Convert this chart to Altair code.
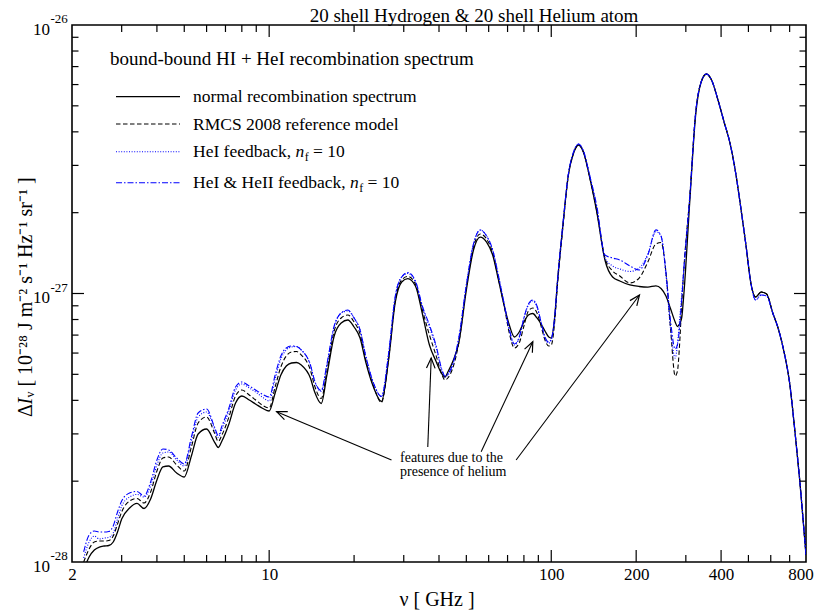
import math
import altair as alt
import pandas as pd

# ---------------- data ----------------
NU = [2.2, 2.3, 2.4, 2.5, 2.6, 2.7, 2.8, 2.9, 3.0, 3.2, 3.4, 3.6, 3.8, 4.0, 4.2, 4.4, 4.7, 5.0,
      5.3, 5.6, 6.0, 6.4, 6.6, 6.8, 7.2, 7.6, 8.0, 8.5, 9.0, 9.5, 10, 10.5, 11, 11.5, 12, 12.5,
      13, 14, 14.5, 15.3, 16, 17, 18, 19, 20, 21, 22, 23.5, 25, 26.5, 28, 29.5, 31, 33, 35, 37,
      39, 41, 42, 43, 45, 47, 50, 53, 56, 59, 62, 65, 68, 71, 74, 77, 80, 83, 86, 89, 92, 95,
      98, 100, 103, 105, 110, 115, 120, 125, 130, 137, 145, 155, 165, 175, 190, 205, 220, 235,
      245, 255, 265, 275, 280, 285, 290, 295, 310, 325, 340, 355, 370, 390, 410, 430, 450, 470,
      490, 510, 530, 555, 580, 610, 640, 670, 700, 730, 760, 790, 800]

# Delta I_nu in units of 1e-28 J m^-2 s^-1 Hz^-1 sr^-1
NORMAL = [0.934, 1.044, 1.108, 1.137, 1.147, 1.152, 1.187, 1.293, 1.446, 1.589, 1.652, 1.582,
          1.717, 2.020, 2.259, 2.278, 2.145, 2.073, 2.482, 2.998, 3.129, 2.798, 2.670, 2.822,
          3.266, 3.910, 4.152, 4.012, 3.861, 3.730, 3.651, 4.260, 4.972, 5.370, 5.510, 5.534,
          5.416, 4.845, 4.297, 3.894, 4.930, 6.946, 7.766, 7.968, 7.503, 6.828, 5.558, 4.446,
          3.961, 5.654, 9.297, 11.04, 11.37, 10.67, 8.317, 6.429, 5.606, 5.014, 4.887, 5.101,
          5.654, 6.541, 10.30, 14.52, 16.23, 15.55, 13.91, 11.23, 9.063, 7.633, 6.887, 7.189,
          7.833, 8.317, 8.425, 8.107, 7.699, 7.250, 6.887, 6.828, 8.317, 10.76, 17.99, 27.63,
          33.37, 35.74, 33.65, 26.93, 20.12, 13.33, 11.52, 11.13, 10.76, 10.62, 10.57, 10.67,
          10.44, 9.788, 8.756, 7.833, 7.536, 7.699, 8.107, 9.872, 22.29, 46.23, 61.34, 65.70,
          62.41, 52.57, 43.52, 36.36, 28.35, 20.82, 15.16, 10.94, 9.705, 10.13, 9.957, 8.462,
          7.313, 6.003, 4.642, 3.101, 2.020, 1.250, 1.062]

RMCS = [1.000, 1.118, 1.187, 1.197, 1.197, 1.202, 1.250, 1.385, 1.536, 1.687, 1.724, 1.658,
        1.823, 2.182, 2.440, 2.461, 2.297, 2.182, 2.681, 3.294, 3.468, 3.022, 2.811, 2.971,
        3.468, 4.152, 4.371, 4.188, 3.996, 3.827, 3.746, 4.485, 5.325, 5.851, 6.055, 6.081,
        5.901, 5.189, 4.524, 4.065, 5.102, 7.250, 8.106, 8.317, 7.832, 7.066, 5.654, 4.484,
        3.927, 5.703, 9.458, 11.23, 11.57, 10.85, 8.607, 7.005, 5.902, 4.971, 4.763, 4.845,
        5.371, 6.541, 10.48, 14.90, 16.65, 15.96, 14.15, 11.33, 9.063, 7.127, 6.267, 6.542,
        7.569, 8.607, 8.832, 8.462, 7.568, 6.712, 6.376, 6.431, 7.968, 10.49, 17.68, 27.63,
        33.37, 35.74, 33.65, 26.93, 20.29, 13.56, 12.13, 11.62, 10.95, 11.42, 13.10, 15.30,
        15.49, 12.02, 7.313, 4.927, 5.123, 6.430, 9.063, 12.23, 23.27, 47.03, 61.34, 65.70,
        62.41, 52.57, 43.52, 36.36, 28.35, 20.82, 15.16, 10.94, 9.705, 10.13, 9.957, 8.462,
        7.313, 6.003, 4.642, 3.101, 2.020, 1.250, 1.062]

HEI_FB = [1.035, 1.187, 1.249, 1.218, 1.228, 1.234, 1.282, 1.445, 1.616, 1.746, 1.785, 1.746,
          1.919, 2.297, 2.547, 2.569, 2.398, 2.278, 2.823, 3.469, 3.620, 3.128, 2.909, 3.128,
          3.651, 4.371, 4.602, 4.447, 4.280, 4.099, 3.978, 4.804, 5.703, 6.160, 6.321, 6.348,
          6.160, 5.416, 4.722, 4.316, 5.372, 7.503, 8.462, 8.607, 8.105, 7.313, 5.851, 4.601,
          4.134, 5.953, 9.788, 11.52, 11.87, 11.04, 8.832, 7.502, 6.321, 5.145, 4.887, 4.971,
          5.510, 6.769, 10.75, 15.29, 17.23, 16.37, 14.52, 11.62, 9.220, 7.312, 6.430, 6.829,
          8.106, 9.062, 9.378, 8.909, 7.832, 6.828, 6.542, 6.712, 8.317, 10.85, 18.14, 27.87,
          33.66, 36.05, 33.94, 27.40, 20.82, 13.56, 12.66, 12.34, 12.08, 12.45, 14.03, 16.96,
          16.38, 11.72, 7.313, 5.753, 6.430, 7.968, 9.874, 12.23, 23.07, 47.03, 61.34, 65.70,
          62.41, 52.57, 43.52, 36.36, 28.35, 20.82, 15.16, 10.94, 9.459, 9.873, 9.788, 8.462,
          7.313, 6.003, 4.642, 3.101, 2.020, 1.250, 1.062]

HEII_FB = [1.090, 1.261, 1.304, 1.293, 1.293, 1.299, 1.362, 1.535, 1.687, 1.807, 1.831, 1.761,
           1.987, 2.398, 2.636, 2.613, 2.439, 2.317, 2.921, 3.589, 3.714, 3.182, 2.959, 3.209,
           3.746, 4.485, 4.682, 4.524, 4.354, 4.206, 4.117, 4.971, 5.852, 6.266, 6.375, 6.348,
           6.160, 5.416, 4.722, 4.353, 5.418, 7.568, 8.462, 8.682, 8.105, 7.313, 5.851, 4.601,
           4.134, 5.953, 9.788, 11.52, 11.97, 11.14, 8.908, 7.632, 6.431, 5.189, 4.929, 5.014,
           5.558, 6.827, 10.75, 15.29, 17.23, 16.37, 14.52, 11.62, 9.220, 7.376, 6.486, 6.887,
           8.106, 9.140, 9.459, 8.986, 7.832, 6.887, 6.598, 6.770, 8.317, 10.85, 18.14, 27.87,
           33.66, 36.05, 33.94, 27.40, 21.18, 13.91, 13.56, 13.33, 12.66, 12.23, 13.91, 17.26,
           16.38, 12.02, 7.832, 6.214, 6.430, 7.440, 9.460, 12.23, 23.07, 47.03, 61.34, 65.70,
           62.41, 52.57, 43.52, 36.36, 28.35, 20.82, 15.16, 10.94, 9.459, 9.873, 9.788, 8.462,
           7.313, 6.003, 4.642, 3.101, 2.020, 1.250, 1.062]

X_LABELS = [2, 10, 100, 200, 400, 800]
X_MAJOR = [10, 100, 200, 400]
X_MINOR = [3, 4, 5, 6, 7, 8, 9, 20, 30, 40, 50, 60, 70, 80, 90, 300, 500, 600, 700]
Y_LABEL_VALUES = [1, 10, 100]
Y_LABEL_EXP = ["-28", "-27", "-26"]
Y_MAJOR = [10]
Y_MINOR = [2, 3, 4, 5, 6, 7, 8, 9, 20, 30, 40, 50, 60, 70, 80, 90]

ARROW_TAIL_NU = [27.14, 36.50, 56.43, 75.08]
ARROW_TAIL_I = [2.399, 2.681, 2.575, 2.399]
ARROW_TIP_NU = [10.63, 37.53, 86.03, 205.5]
ARROW_TIP_I = [3.629, 5.752, 6.614, 9.872]

TITLE = "20 shell Hydrogen & 20 shell Helium atom"
LEGEND_TITLE = "bound-bound HI + HeI recombination spectrum"
NOTE = ["features due to the", "presence of helium"]
Y_TITLE = ["Δ", "I", "ᵥ [ 10⁻²⁸ J m⁻² s⁻¹ Hz⁻¹ sr⁻¹ ]"]
X_TITLE = "ν [ GHz ]"

# ---------------- layout / style ----------------
W, H = 734, 537
FONT = "Liberation Serif"
BLUE = "#0000ff"

XS = alt.Scale(type="log", domain=[2, 800], nice=False)
YS = alt.Scale(type="log", domain=[1, 100], nice=False)
XAXIS = alt.Axis(values=X_LABELS, format="d", labelFont=FONT, labelFontSize=17,
                 labelColor="black", labelPadding=4, ticks=False, tickSize=0,
                 domain=False, grid=False, labelFlush=False, labelOverlap=False,
                 labelOffset={"condition": {"test": "datum.value >= 800", "value": -5.5},
                              "value": 0},
                 title=None)


def X(field):
    return alt.X(field, type="quantitative", scale=XS, axis=XAXIS)


def Y(field):
    return alt.Y(field, type="quantitative", scale=YS, axis=None)


ONE = pd.DataFrame({"a": [0]})
layers = []

# curves
curve_styles = [
    (NORMAL, dict(color="black", strokeWidth=1.3)),
    (RMCS, dict(color="black", strokeWidth=1.1, strokeDash=[4.5, 2.5])),
    (HEI_FB, dict(color=BLUE, strokeWidth=1.1, strokeDash=[1, 1.6])),
    (HEII_FB, dict(color=BLUE, strokeWidth=1.1, strokeDash=[6, 2, 1.5, 2])),
]
for vals, st in curve_styles:
    df = pd.DataFrame({"nu": NU, "I": vals})
    layers.append(
        alt.Chart(df).mark_line(clip=True, interpolate="monotone", **st)
        .encode(x=X("nu"), y=Y("I"))
    )

# inward ticks
def xticks(vals, y0, y1):
    return alt.Chart(pd.DataFrame({"v": vals})).mark_rule(color="black", strokeWidth=1.2).encode(
        x=X("v"), y=alt.value(y0), y2=alt.value(y1))


def yticks(vals, x0, x1):
    return alt.Chart(pd.DataFrame({"v": vals})).mark_rule(color="black", strokeWidth=1.2).encode(
        y=Y("v"), x=alt.value(x0), x2=alt.value(x1))


layers += [
    xticks(X_MAJOR, H, H - 12), xticks(X_MINOR, H, H - 7),
    xticks(X_MAJOR, 0, 12), xticks(X_MINOR, 0, 7),
    yticks(Y_MAJOR, 0, 12), yticks(Y_MINOR, 0, 6.5),
    yticks(Y_MAJOR, W, W - 12), yticks(Y_MINOR, W, W - 6.5),
]

# y tick labels 10^n
ylab = pd.DataFrame({"v": Y_LABEL_VALUES, "exp": Y_LABEL_EXP})
layers.append(alt.Chart(ylab).mark_text(font=FONT, fontSize=17, align="right", baseline="alphabetic",
                                        dy=9.5, color="black")
              .encode(y=Y("v"), x=alt.value(-22), text=alt.value("10")))
layers.append(alt.Chart(ylab).mark_text(font=FONT, fontSize=13, align="left", baseline="alphabetic",
                                        dy=-2, color="black")
              .encode(y=Y("v"), x=alt.value(-21.5), text="exp:N"))


def txt(s, x, y, size=17.5, style="normal", align="left", angle=0):
    return alt.Chart(ONE).mark_text(font=FONT, fontSize=size, fontStyle=style, align=align,
                                    baseline="alphabetic", color="black", angle=angle).encode(
        x=alt.value(x), y=alt.value(y), text=alt.value(s))


# axis titles and chart title
layers.append(txt(X_TITLE, W / 2 - 2, H + 44, size=20, align="center"))
YT0 = 392  # bottom end of the rotated y title
layers.append(txt(Y_TITLE[0], -40, YT0, size=20, angle=270))
layers.append(txt(Y_TITLE[1], -40, YT0 - 12.5, size=20, style="italic", angle=270))
layers.append(txt(Y_TITLE[2], -40, YT0 - 19.5, size=20, angle=270))
layers.append(txt(TITLE, 402, -3.5, size=19, align="center"))

# legend (hand-built, inside the plot)
layers.append(txt(LEGEND_TITLE, 38, 40, size=19))
leg_y = [71.7, 99, 126.7, 157.7]
for (vals, st), ly in zip(curve_styles, leg_y):
    layers.append(alt.Chart(ONE).mark_rule(**st).encode(
        x=alt.value(44), x2=alt.value(108), y=alt.value(ly)))

TX = 121
layers.append(txt("normal recombination spectrum", TX, leg_y[0] + 5.5))
layers.append(txt("RMCS 2008 reference model", TX, leg_y[1] + 5.5))
for label, nx, ly in [("HeI feedback,", TX + 102.5, leg_y[2]),
                      ("HeI & HeII feedback,", TX + 157, leg_y[3])]:
    b = ly + 5.5
    layers.append(txt(label, TX, b))
    layers.append(txt("n", nx, b, style="italic"))
    layers.append(txt("f", nx + 9.2, b + 4, size=12))
    layers.append(txt("= 10", nx + 17.5, b))

# annotation text and arrows
layers.append(txt(NOTE[0], 328, 437, size=14))
layers.append(txt(NOTE[1], 328, 450.5, size=14))

px_dec_x = W / math.log10(800 / 2)
px_dec_y = H / 2.0
angles = []
for x0, y0, x1, y1 in zip(ARROW_TAIL_NU, ARROW_TAIL_I, ARROW_TIP_NU, ARROW_TIP_I):
    dx = px_dec_x * (math.log10(x1) - math.log10(x0))
    dy = -px_dec_y * (math.log10(y1) - math.log10(y0))
    angles.append((math.degrees(math.atan2(dy, dx)) + 360) % 360)
arrows = pd.DataFrame({"x0": ARROW_TAIL_NU, "y0": ARROW_TAIL_I, "x1": ARROW_TIP_NU,
                       "y1": ARROW_TIP_I, "ang": angles})
layers.append(alt.Chart(arrows).mark_rule(color="black", strokeWidth=1.1).encode(
    x=X("x0"), x2="x1", y=Y("y0"), y2="y1"))
layers.append(alt.Chart(arrows).mark_point(shape="M -1 -0.42 L 0 0 L -1 0.42", size=420,
                                           filled=False, color="black", strokeWidth=1.2,
                                           opacity=1).encode(
    x=X("x1"), y=Y("y1"), angle=alt.Angle("ang:Q", scale=None)))

chart = alt.layer(*layers).properties(
    width=W, height=H,
    padding={"left": 64, "top": 17, "right": 8, "bottom": 50},
    autosize=alt.AutoSizeParams(type="none"),
    background="white",
).configure_view(stroke="black", strokeWidth=1.6)

chart.save("out.html", embed_options={"renderer": "svg", "actions": False})
